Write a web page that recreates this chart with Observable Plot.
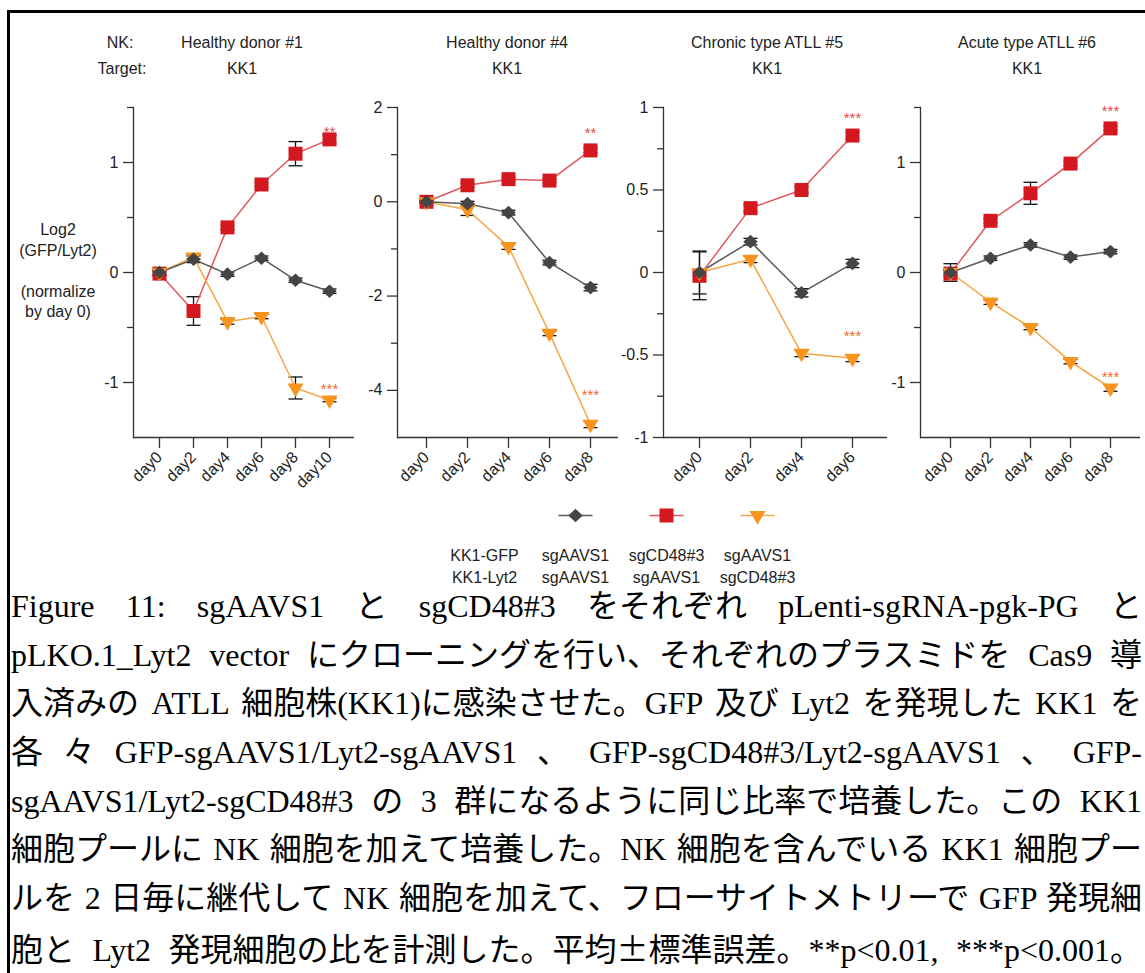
<!DOCTYPE html>
<html lang="ja"><head><meta charset="utf-8">
<script src="https://cdn.jsdelivr.net/npm/d3@7"></script>
<script src="https://cdn.jsdelivr.net/npm/@observablehq/plot@0.6"></script>
<style>
html,body{margin:0;padding:0;background:#fff;width:1145px;height:973px;overflow:hidden;}
#page{position:relative;width:1145px;height:973px;overflow:hidden;font-family:"Liberation Sans",Arial,sans-serif;color:#222;}
#frame{position:absolute;left:7px;top:10px;width:2000px;height:2000px;border-left:3px solid #000;border-top:3px solid #000;}
.t{position:absolute;font-size:16px;white-space:nowrap;transform:translate(-50%,-50%);line-height:1;}
.panel{position:absolute;top:90px;}
.panel svg, #legend svg{max-width:none !important;display:block;}
#ylab{position:absolute;left:58px;top:230px;transform:translate(-50%,-10px);text-align:center;font-size:16px;line-height:20.5px;white-space:nowrap;}
#legend{position:absolute;left:400px;top:495px;width:400px;}
#caption{position:absolute;left:11px;top:582px;width:1131px;font-family:"Liberation Serif","Noto Sans CJK JP",serif;font-size:32px;color:#000;}
#caption div{height:48.7px;line-height:48.7px;white-space:nowrap;}
#caption .cjk{font-family:"Noto Sans CJK JP",sans-serif;}
</style></head>
<body><div id="page"><div id="frame"></div></div>
<script>
// ---------- data ----------
const nkLabel = "NK:";
const targetLabel = "Target:";
const panelTitles = ["Healthy donor #1", "Healthy donor #4", "Chronic type ATLL #5", "Acute type ATLL #6"];
const panelTargets = ["KK1", "KK1", "KK1", "KK1"];
const yLabelLines = ["Log2", "(GFP/Lyt2)", "\u00a0", "(normalize", "by day 0)"];

const legendHeader = ["KK1-GFP", "KK1-Lyt2"];
const legendGFP = ["sgAAVS1", "sgCD48#3", "sgAAVS1"];
const legendLyt2 = ["sgAAVS1", "sgAAVS1", "sgCD48#3"];
const seriesNames = legendGFP.map((g, i) => g + "/" + legendLyt2[i]);

// Panel 1: Healthy donor #1
const p1Days = ["day0", "day2", "day4", "day6", "day8", "day10"];
const p1Gray = [0, 0.12, -0.015, 0.13, -0.07, -0.17];
const p1GrayErr = [0.02, 0.03, 0.02, 0.02, 0.02, 0.02];
const p1Red = [-0.01, -0.35, 0.41, 0.80, 1.08, 1.21];
const p1RedErr = [0.02, 0.13, 0.02, 0.02, 0.11, 0.04];
const p1Orange = [0.0, 0.14, -0.447, -0.40, -1.05, -1.16];
const p1OrangeErr = [0.02, 0.02, 0.023, 0.02, 0.10, 0.015];
const p1Domain = [-1.5, 1.5];
const p1Major = [-1, 0, 1];
const p1Minor = [-0.5, 0.5, 1.5];
const p1Stars = [["red", "day10", "**", 1.31], ["orange", "day10", "***", -1.025]];

// Panel 2: Healthy donor #4
const p2Days = ["day0", "day2", "day4", "day6", "day8"];
const p2Gray = [0, -0.04, -0.23, -1.29, -1.82];
const p2GrayErr = [0.03, 0.05, 0.05, 0.05, 0.07];
const p2Red = [0, 0.35, 0.48, 0.45, 1.09];
const p2RedErr = [0.03, 0.04, 0.04, 0.04, 0.05];
const p2Orange = [0, -0.17, -0.95, -2.79, -4.72];
const p2OrangeErr = [0.03, 0.12, 0.06, 0.05, 0.07];
const p2Domain = [-5, 2];
const p2Major = [-4, -2, 0, 2];
const p2Minor = [-3, -1, 1];
const p2Stars = [["red", "day8", "**", 1.55], ["orange", "day8", "***", -4.02]];

// Panel 3: Chronic type ATLL #5
const p3Days = ["day0", "day2", "day4", "day6"];
const p3Gray = [0, 0.187, -0.123, 0.055];
const p3GrayErr = [0.13, 0.02, 0.025, 0.025];
const p3Red = [-0.02, 0.39, 0.50, 0.83];
const p3RedErr = [0.145, 0.02, 0.02, 0.02];
const p3Orange = [0, 0.08, -0.49, -0.52];
const p3OrangeErr = [0.02, 0.02, 0.02, 0.02];
const p3Domain = [-1, 1];
const p3Major = [-1, -0.5, 0, 0.5, 1];
const p3Minor = [-0.75, -0.25, 0.25, 0.75];
const p3Stars = [["red", "day6", "***", 0.957], ["orange", "day6", "***", -0.36]];

// Panel 4: Acute type ATLL #6
const p4Days = ["day0", "day2", "day4", "day6", "day8"];
const p4Gray = [0, 0.13, 0.25, 0.14, 0.19];
const p4GrayErr = [0.08, 0.02, 0.02, 0.02, 0.02];
const p4Red = [-0.01, 0.47, 0.72, 0.99, 1.31];
const p4RedErr = [0.03, 0.02, 0.10, 0.02, 0.02];
const p4Orange = [0, -0.27, -0.50, -0.81, -1.05];
const p4OrangeErr = [0.02, 0.02, 0.02, 0.02, 0.03];
const p4Domain = [-1.5, 1.5];
const p4Major = [-1, 0, 1];
const p4Minor = [-0.5, 0.5, 1.5];
const p4Stars = [["red", "day8", "***", 1.507], ["orange", "day8", "***", -0.913]];

const captionLines = [
  "Figure 11: sgAAVS1 と sgCD48#3 をそれぞれ pLenti-sgRNA-pgk-PG と",
  "pLKO.1_Lyt2 vector にクローニングを行い、それぞれのプラスミドを Cas9 導",
  "入済みの ATLL 細胞株(KK1)に感染させた。GFP 及び Lyt2 を発現した KK1 を",
  "各 々 GFP-sgAAVS1/Lyt2-sgAAVS1 、 GFP-sgCD48#3/Lyt2-sgAAVS1 、 GFP-",
  "sgAAVS1/Lyt2-sgCD48#3 の 3 群になるように同じ比率で培養した。この KK1",
  "細胞プールに NK 細胞を加えて培養した。NK 細胞を含んでいる KK1 細胞プー",
  "ルを 2 日毎に継代して NK 細胞を加えて、フローサイトメトリーで GFP 発現細",
  "胞と Lyt2 発現細胞の比を計測した。平均±標準誤差。**p<0.01, ***p<0.001。"
];

// ---------- styles ----------
const COL = {
  gray:   {fill: "#454545", line: "#5a5a5a", star: "#555"},
  red:    {fill: "#d3191f", line: "#e2575c", star: "#e8484c"},
  orange: {fill: "#f7941d", line: "#f6a544", star: "#f26a2c"}
};
const sym = {
  red:    {draw(c){ c.rect(-7, -7, 14, 14); }},
  gray:   {draw(c){ c.moveTo(0, -6.8); c.lineTo(7.2, 0); c.lineTo(0, 6.8); c.lineTo(-7.2, 0); c.closePath(); }},
  orange: {draw(c){ c.moveTo(-8, -4.6); c.lineTo(8, -4.6); c.lineTo(0, 9); c.closePath(); }}
};
const capSym = {draw(c){ c.moveTo(-7, 0); c.lineTo(7, 0); }};
const legLine = {draw(c){ c.moveTo(-17, 0); c.lineTo(17, 0); }};
const fontFam = "'Liberation Sans', Arial, sans-serif";
const page = document.getElementById("page");

function addText(txt, x, y, cls = "t") {
  const d = document.createElement("div");
  d.className = cls; d.textContent = txt;
  d.style.left = x + "px"; d.style.top = y + "px";
  page.appendChild(d);
}

// header texts
addText(nkLabel, 120, 43);
addText(targetLabel, 122, 69);
const titleX = [242, 507, 767, 1027];
panelTitles.forEach((t, i) => { addText(t, titleX[i], 43); addText(panelTargets[i], titleX[i], 69); });

const yl = document.createElement("div");
yl.id = "ylab"; yl.innerHTML = yLabelLines.map(s => `<div>${s}</div>`).join("");
page.appendChild(yl);

function makePanel(days, gray, grayErr, red, redErr, orange, orangeErr, domain, major, minor, stars, axisX, frameW) {
  const rows = {gray: [], red: [], orange: []};
  const put = (k, vals, errs) => vals.forEach((v, i) => rows[k].push({day: days[i], value: v, lo: v - errs[i], hi: v + errs[i]}));
  put("gray", gray, grayErr); put("red", red, redErr); put("orange", orange, orangeErr);
  const all = [...rows.red, ...rows.orange, ...rows.gray];
  const starRows = stars.map(([k, day, label, y]) => ({k, day, label, y}));
  const order = ["red", "orange", "gray"];
  const mL = 50, mR = 12, mT = 17, mB = 60;
  const marks = [
    Plot.axisY({ticks: minor, tickSize: 6, tickFormat: () => "", stroke: "#333", strokeWidth: 1.3, label: null}),
    Plot.axisY({ticks: major, tickSize: 10, tickPadding: 5, tickFormat: d => String(d), stroke: "#333", strokeWidth: 1.3, fill: "#222", fontSize: 16, label: null}),
    Plot.axisX({tickSize: 11, tickRotate: -45, tickPadding: 6, stroke: "#333", strokeWidth: 1.3, fill: "#222", fontSize: 16, label: null}),
    Plot.frame({anchor: "left", stroke: "#333", strokeWidth: 1.3}),
    Plot.ruleY([domain[0]], {stroke: "#333", strokeWidth: 1.3}),
    Plot.ruleX(all, {x: "day", y1: "lo", y2: "hi", stroke: "#111", strokeWidth: 1.3}),
    Plot.dot(all, {x: "day", y: "lo", symbol: capSym, fill: "none", stroke: "#111", strokeWidth: 1.3}),
    Plot.dot(all, {x: "day", y: "hi", symbol: capSym, fill: "none", stroke: "#111", strokeWidth: 1.3})
  ];
  for (const k of order) marks.push(Plot.line(rows[k], {x: "day", y: "value", stroke: COL[k].line, strokeWidth: 1.5}));
  for (const k of order) marks.push(Plot.dot(rows[k], {x: "day", y: "value", symbol: sym[k], fill: COL[k].fill, stroke: "none"}));
  for (const k of ["red", "orange"]) marks.push(Plot.text(starRows.filter(s => s.k === k), {x: "day", y: "y", text: "label", fill: COL[k].star, fontSize: 15, dy: 4}));
  const W = mL + frameW + mR;
  const svg = Plot.plot({
    width: W, height: mT + 330 + mB,
    marginLeft: mL, marginRight: mR, marginTop: mT, marginBottom: mB,
    x: {type: "point", domain: days, padding: 0.69, label: null},
    y: {domain, label: null},
    style: {fontFamily: fontFam, fontSize: "16px", color: "#222", background: "transparent", overflow: "visible"},
    marks
  });
  const wrap = document.createElement("div");
  wrap.className = "panel"; wrap.style.left = (axisX - mL) + "px"; wrap.style.width = W + "px";
  wrap.appendChild(svg);
  page.appendChild(wrap);
}

makePanel(p1Days, p1Gray, p1GrayErr, p1Red, p1RedErr, p1Orange, p1OrangeErr, p1Domain, p1Major, p1Minor, p1Stars, 133, 221);
makePanel(p2Days, p2Gray, p2GrayErr, p2Red, p2RedErr, p2Orange, p2OrangeErr, p2Domain, p2Major, p2Minor, p2Stars, 397.3, 221);
makePanel(p3Days, p3Gray, p3GrayErr, p3Red, p3RedErr, p3Orange, p3OrangeErr, p3Domain, p3Major, p3Minor, p3Stars, 663.3, 224);
makePanel(p4Days, p4Gray, p4GrayErr, p4Red, p4RedErr, p4Orange, p4OrangeErr, p4Domain, p4Major, p4Minor, p4Stars, 920, 220);

// legend
const legKeys = ["gray", "red", "orange"];
const legCols = ["hdr", ...seriesNames];
const legMarks = legKeys.map((k, i) => ({k, col: seriesNames[i]}));
const legText = [
  {col: "hdr", row1: legendHeader[0], row2: legendHeader[1]},
  ...seriesNames.map((s, i) => ({col: s, row1: legendGFP[i], row2: legendLyt2[i]}))
];
const legendSvg = Plot.plot({
  width: 400, height: 90, margin: 0,
  x: {type: "point", domain: legCols, range: [83, 357], padding: 0, axis: null},
  style: {fontFamily: fontFam, fontSize: "16px", color: "#222", background: "transparent", overflow: "visible"},
  marks: [
    ...legKeys.map((k, i) => Plot.dot([legMarks[i]], {x: "col", frameAnchor: "top", dy: 20, symbol: legLine, fill: "none", stroke: COL[k].line, strokeWidth: 1.5})),
    ...legKeys.map((k, i) => Plot.dot([legMarks[i]], {x: "col", frameAnchor: "top", dy: 20, symbol: sym[k], fill: COL[k].fill, stroke: "none"})),
    Plot.text(legText, {x: "col", text: "row1", frameAnchor: "top", dy: 54, fill: "#222", fontSize: 16}),
    Plot.text(legText, {x: "col", text: "row2", frameAnchor: "top", dy: 76, fill: "#222", fontSize: 16})
  ]
});
const lg = document.createElement("div"); lg.id = "legend"; lg.appendChild(legendSvg); page.appendChild(lg);

// caption: each line justified to the full width by spreading its spaces
const cap = document.createElement("div"); cap.id = "caption"; cap.lang = "ja";
page.appendChild(cap);
const capWidth = 1131;
captionLines.forEach(s => {
  const d = document.createElement("div");
  const sp = document.createElement("span");
  s.split("±").forEach((part, i) => {
    if (i > 0) { const c = document.createElement("span"); c.className = "cjk"; c.textContent = "±"; sp.appendChild(c); }
    sp.appendChild(document.createTextNode(part));
  });
  d.appendChild(sp); cap.appendChild(d);
  const w = sp.getBoundingClientRect().width;
  const n = (s.match(/ /g) || []).length;
  if (n > 0) sp.style.wordSpacing = ((capWidth - w) / n) + "px";
});
</script>
</body></html>
